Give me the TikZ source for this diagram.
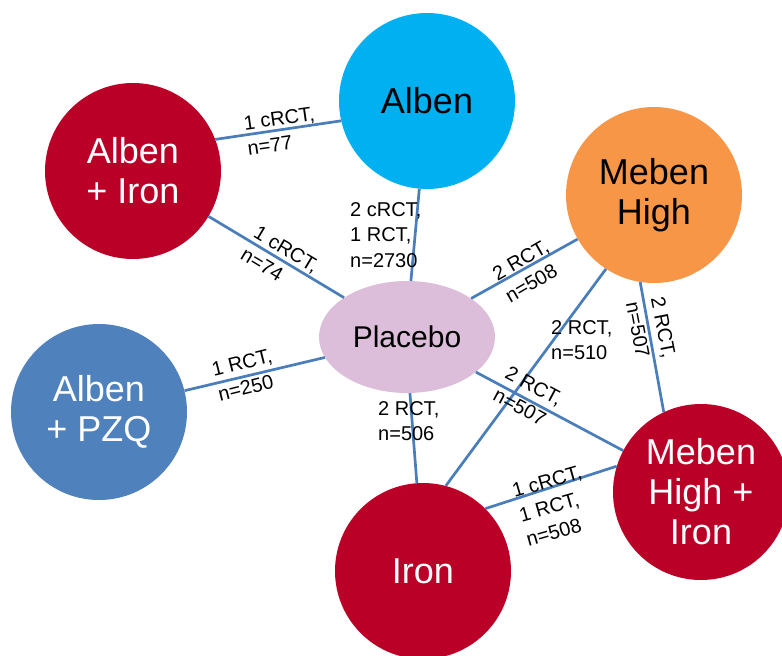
\documentclass[tikz,border=0pt]{standalone}
\usepackage{fontspec}
\setmainfont{Liberation Sans}
\usetikzlibrary{shapes.geometric}
\definecolor{cyanA}{HTML}{00B0F0}
\definecolor{orangeA}{HTML}{F79646}
\definecolor{redA}{HTML}{BA0027}
\definecolor{blueA}{HTML}{4F81BD}
\definecolor{lilac}{HTML}{DCBEDA}
\definecolor{edgeA}{HTML}{4A7EBB}
\begin{document}
\begin{tikzpicture}[x=1pt,y=-1pt,
  trt/.style={circle,minimum size=176pt,inner sep=0pt,font=\fontsize{36}{40}\selectfont,align=center},
  lab/.style={font=\fontsize{20}{25.5}\selectfont,align=left,inner sep=0pt},
  link/.style={draw=edgeA,line width=2.7pt}]
\useasboundingbox (0,0) rectangle (782,656);
\clip (0,0) rectangle (782,656);
\node[trt,fill=cyanA] (alb) at (427,101) {Alben};
\node[trt,fill=redA,text=white] (albi) at (133,171) {Alben\\+ Iron};
\node[trt,fill=orangeA] (meb) at (654,195) {Meben\\High};
\node[ellipse,fill=lilac,minimum width=176pt,minimum height=112pt,inner sep=0pt,font=\fontsize{30}{36}\selectfont] (pla) at (407,337) {Placebo};
\node[trt,fill=blueA,text=white] (pzq) at (99,412) {Alben\\+ PZQ};
\node[trt,fill=redA,text=white] (mebi) at (701,492) {Meben\\High +\\Iron};
\node[trt,fill=redA,text=white] (iron) at (423,571) {Iron};
\draw[link] (albi.21) -- (alb.-167);
\draw[link] (albi.-31) -- (pla.148);
\draw[link] (alb.-95) -- (pla.86);
\draw[link] (pla.31) -- (meb.-150);
\draw[link] (meb.-123) -- (iron.75);
\draw[link] (meb.-99) -- (mebi.115);
\draw[link] (pla.-27) -- (mebi.152);
\draw[link] (pzq.14) -- (pla.-166);
\draw[link] (pla.-87) -- (iron.94);
\draw[link] (iron.45) -- (mebi.163);
\node[lab,rotate=8] (l1) at (281,131) {1 cRCT,\\n=77};
\node[lab,rotate=-31] (l2) at (280,260) {1 cRCT,\\n=74};
\node[lab,anchor=west] (l3) at (350,235) {2 cRCT,\\1 RCT,\\n=2730};
\node[lab,rotate=30] (l4) at (527,271) {2 RCT,\\n=508};
\node[lab,anchor=west] (l5) at (551,340) {2 RCT,\\n=510};
\node[lab,rotate=-79] (l6) at (651,330) {2 RCT,\\n=507};
\node[lab,rotate=-28] (l7) at (528,397) {2 RCT,\\n=507};
\node[lab,rotate=14] (l8) at (245,375) {1 RCT,\\n=250};
\node[lab,anchor=west] (l9) at (378,421) {2 RCT,\\n=506};
\node[lab,rotate=16] (l10) at (554,506) {1 cRCT,\\1 RCT,\\n=508};
\end{tikzpicture}
\end{document}
